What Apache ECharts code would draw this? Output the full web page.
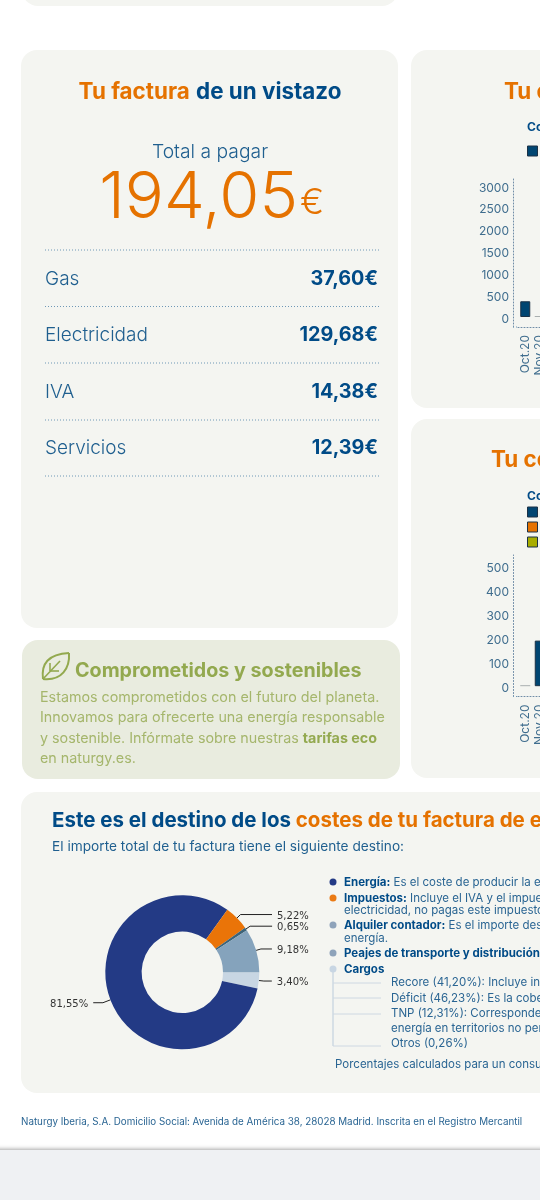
<!DOCTYPE html>
<html>
<head>
<meta charset="utf-8">
<title>Factura</title>
<style>
html, body { margin: 0; padding: 0; background: #fff; }
#chart { width: 540px; height: 1200px; }
</style>
<script src="https://cdn.jsdelivr.net/npm/echarts@6/dist/echarts.min.js"></script>
</head>
<body>
<div id="chart"></div>
<script>
// data
var months = ['Oct.20', 'Nov.20'];
var gasConsumo = [360, 0];
var gasTicks = [0, 500, 1000, 1500, 2000, 2500, 3000];
var luzPunta = [0, 190];
var luzLlano = [];
var luzValle = [];
var luzTicks = [0, 100, 200, 300, 400, 500];
var costeNombres = ['Cargos', 'Energía', 'Impuestos', 'Alquiler contador', 'Peajes'];
var costeValores = [3.40, 81.55, 5.22, 0.65, 9.18];
var costeEtiquetas = ['3,40%', '81,55%', '5,22%', '0,65%', '9,18%'];
var desglose = [
    ['Gas', '37,60€'],
    ['Electricidad', '129,68€'],
    ['IVA', '14,38€'],
    ['Servicios', '12,39€']
];

var NAVY = '#004b87';
var ORANGE = '#e57200';
var GREEN = '#93a94f';
var AXIS = '#3f6d8e';
var CARD = '#f4f5f1';
var FONT = 'Inter, Lato, sans-serif';

function txt(x, y, text, size, color, extra) {
    var style = {
        x: x, y: y + 2, text: text,
        fontFamily: FONT, fontSize: size, fill: color,
        verticalAlign: 'middle', align: 'left'
    };
    for (var k in extra) {
        style[k] = extra[k];
    }
    return { type: 'text', style: style };
}

function card(x, y, w, h, color) {
    return {
        type: 'rect', z: -1,
        shape: { x: x, y: y, width: w, height: h, r: 16 },
        style: { fill: color || CARD }
    };
}

function dotted(x1, y1, x2, y2, color) {
    return {
        type: 'line', z: 1,
        shape: { x1: x1, y1: y1, x2: x2, y2: y2 },
        style: { stroke: color || '#6f98b6', lineWidth: 1, lineDash: [1, 2] }
    };
}

function bullet(y, color) {
    return { type: 'circle', shape: { cx: 333, cy: y, r: 3.5 }, style: { fill: color } };
}

function branch(y) {
    return {
        type: 'line',
        shape: { x1: 333, y1: y, x2: 381, y2: y },
        style: { stroke: '#ced8e2', lineWidth: 1 }
    };
}

function leafCurve(x1, y1, cx1, cy1, cx2, cy2, x2, y2) {
    return {
        type: 'bezierCurve',
        shape: { x1: x1, y1: y1, cpx1: cx1, cpy1: cy1, cpx2: cx2, cpy2: cy2, x2: x2, y2: y2 },
        style: { fill: null, stroke: GREEN, lineWidth: 2 }
    };
}

function leafVein(x1, y1, x2, y2) {
    return {
        type: 'line',
        shape: { x1: x1, y1: y1, x2: x2, y2: y2 },
        style: { stroke: GREEN, lineWidth: 1.6 }
    };
}

var legendRich = {
    b: { fontFamily: FONT, fontSize: 11.5, fontWeight: 'bold', fill: NAVY },
    n: { fontFamily: FONT, fontSize: 11.5, fill: '#2a6593' }
};

var elements = [
    // fondo de la pagina
    {
        type: 'rect', z: -2,
        shape: { x: -10, y: 1150, width: 560, height: 60 },
        style: { fill: '#eff1f3', shadowBlur: 4, shadowColor: 'rgba(0,0,0,0.35)', shadowOffsetY: -1 }
    },
    card(22, -40, 376, 46),
    card(21, 50, 377, 578),
    card(411, 50, 160, 358),
    card(411, 419, 160, 359),
    card(22, 640, 378, 139, '#e9ecdf'),
    card(21, 792, 560, 301),

    txt(210, 90, '{o|Tu factura} {n|de un vistazo}', 22.4, NAVY, {
        align: 'center',
        rich: {
            o: { fontFamily: FONT, fontSize: 22.4, fontWeight: 'bold', fill: ORANGE },
            n: { fontFamily: FONT, fontSize: 22.4, fontWeight: 'bold', fill: NAVY }
        }
    }),
    txt(210, 150, 'Total a pagar', 19.3, '#1f5f8f', { align: 'center', fontWeight: 300 }),
    txt(298, 196, '194,05', 65, ORANGE, { align: 'right', fontWeight: 300 }),
    txt(300, 201, '€', 36, ORANGE, { fontWeight: 300 }),

    dotted(45, 250, 379, 250),
    dotted(45, 306.5, 379, 306.5),
    dotted(45, 363, 379, 363),
    dotted(45, 420, 379, 420),
    dotted(45, 476, 379, 476),

    // hoja
    leafCurve(43, 679, 41, 664, 48, 654, 69, 653),
    leafCurve(69, 653, 70, 668, 62, 681, 43, 679),
    leafVein(43, 679, 60, 661),
    leafVein(50, 671, 50, 663),
    leafVein(50, 671, 59, 671),

    txt(75, 669, 'Comprometidos y sostenibles', 19.7, GREEN, { fontWeight: 'bold' }),
    txt(40, 696, 'Estamos comprometidos con el futuro del planeta.', 14.3, '#a5b66c'),
    txt(40, 716, 'Innovamos para ofrecerte una energía responsable', 14.3, '#a5b66c'),
    txt(40, 737, '{n|y sostenible. Infórmate sobre nuestras }{b|tarifas eco}', 14.3, '#a5b66c', {
        rich: {
            n: { fontFamily: FONT, fontSize: 14.3, fill: '#a5b66c' },
            b: { fontFamily: FONT, fontSize: 14.3, fontWeight: 'bold', fill: GREEN }
        }
    }),
    txt(40, 757, 'en naturgy.es.', 14.3, '#a5b66c'),

    // graficas de la derecha
    txt(504, 90, 'Tu consumo de gas', 22.4, ORANGE, { fontWeight: 'bold' }),
    txt(527, 125, 'Consumo', 12, NAVY, { fontWeight: 'bold' }),
    txt(491, 458, 'Tu consumo de electricidad', 22.4, ORANGE, { fontWeight: 'bold' }),
    txt(527, 494, 'Consumo', 12, NAVY, { fontWeight: 'bold' }),
    dotted(513, 327, 518, 327),
    dotted(513, 696.5, 518, 696.5),

    // destino de los costes
    txt(52, 819, '{n|Este es el destino de los }{o|costes de tu factura de electricidad}', 20.5, NAVY, {
        rich: {
            n: { fontFamily: FONT, fontSize: 20.5, fontWeight: 'bold', fill: NAVY },
            o: { fontFamily: FONT, fontSize: 20.5, fontWeight: 'bold', fill: ORANGE }
        }
    }),
    txt(52, 845, 'El importe total de tu factura tiene el siguiente destino:', 13.7, '#1f5f8f'),

    bullet(882, '#233a85'),
    bullet(898, '#ea7a14'),
    bullet(925, '#8ea3ba'),
    bullet(953, '#8ea3ba'),
    {
        type: 'line',
        shape: { x1: 333, y1: 969, x2: 333, y2: 1046 },
        style: { stroke: '#ced8e2', lineWidth: 1.5 }
    },
    bullet(969, '#c8d6e3'),
    branch(983), branch(998), branch(1014), branch(1046),

    txt(344, 881, '{b|Energía:} {n|Es el coste de producir la energía}', 11.5, NAVY, { rich: legendRich }),
    txt(344, 897, '{b|Impuestos:} {n|Incluye el IVA y el impuesto}', 11.5, NAVY, { rich: legendRich }),
    txt(344, 909, 'electricidad, no pagas este impuesto', 11.5, '#2a6593'),
    txt(344, 924, '{b|Alquiler contador:} {n|Es el importe destinado}', 11.5, NAVY, { rich: legendRich }),
    txt(344, 937, 'energía.', 11.5, '#2a6593'),
    txt(344, 952, 'Peajes de transporte y distribución', 11.5, NAVY, { fontWeight: 'bold' }),
    txt(344, 968, 'Cargos', 11.5, NAVY, { fontWeight: 'bold' }),
    txt(391, 981, 'Recore (41,20%): Incluye incentivos', 11.5, '#2a6593'),
    txt(391, 997, 'Déficit (46,23%): Es la cobertura', 11.5, '#2a6593'),
    txt(391, 1012, 'TNP (12,31%): Corresponde', 11.5, '#2a6593'),
    txt(391, 1027, 'energía en territorios no peninsulares', 11.5, '#2a6593'),
    txt(391, 1042, 'Otros (0,26%)', 11.5, '#2a6593'),
    txt(335, 1063, 'Porcentajes calculados para un consumo', 11.5, '#2a6593'),

    txt(21, 1120, 'Naturgy Iberia, S.A. Domicilio Social: Avenida de América 38, 28028 Madrid. Inscrita en el Registro Mercantil', 9.8, '#2a6593')
];

// filas del desglose
var filaY = [277, 333, 390, 446];
desglose.forEach(function (fila, i) {
    elements.push(txt(45, filaY[i], fila[0], 19, '#1f5f8f', { fontWeight: 300 }));
    elements.push(txt(378, filaY[i], fila[1], 19.8, NAVY, { align: 'right', fontWeight: 'bold' }));
});

function barData(values) {
    return values.map(function (v) {
        if (v === 0) {
            return { value: 0, itemStyle: { color: '#a9afaf', borderWidth: 0 } };
        }
        return v;
    });
}

function barSeries(name, values, idx, color) {
    return {
        name: name,
        type: 'bar',
        stack: 'c' + idx,
        xAxisIndex: idx,
        yAxisIndex: idx,
        barWidth: 10,
        barMinHeight: 1,
        silent: true,
        itemStyle: { color: color, borderColor: '#1b3146', borderWidth: 1 },
        data: barData(values)
    };
}

function xAxisOpt(idx) {
    return {
        type: 'category',
        gridIndex: idx,
        data: months,
        axisTick: { show: false },
        axisLine: { onZero: false, lineStyle: { color: '#6f8ca6', type: [1, 2] } },
        axisLabel: { rotate: 90, margin: 8, interval: 0, color: AXIS, fontFamily: FONT, fontSize: 12 }
    };
}

function yAxisOpt(idx, min, max, ticks) {
    return {
        type: 'value',
        gridIndex: idx,
        min: min,
        max: max,
        offset: 5,
        splitLine: { show: false },
        axisTick: { show: false },
        axisLine: { show: true, lineStyle: { color: '#6f8ca6', type: [1, 2] } },
        axisLabel: {
            customValues: ticks, margin: 4,
            formatter: function (v) { return '{t|' + v + '}'; },
            rich: {
                t: { color: AXIS, fontFamily: FONT, fontSize: 12, padding: [4, 0, 0, 0] }
            }
        }
    };
}

function legendOpt(top, names) {
    return {
        left: 522, top: top, orient: 'vertical',
        itemWidth: 10, itemHeight: 10, itemGap: 3,
        icon: 'rect', selectedMode: false,
        itemStyle: { borderColor: '#1b3146', borderWidth: 1 },
        textStyle: { color: NAVY, fontFamily: FONT, fontSize: 12 },
        data: names
    };
}

// tramos de cada guia del donut, por etiqueta
var guiaLargo = [8, 9.7, 31.5, 22, 11];
var guiaInicio = [5, 8, 5, 5, 5];

var myChart = echarts.init(document.getElementById('chart'));

var option = {
    animation: false,
    backgroundColor: '#fff',
    graphic: { elements: elements },
    legend: [
        legendOpt(140, ['Gas']),
        legendOpt(501, ['Punta', 'Llano', 'Valle'])
    ],
    grid: [
        { left: 518, top: 177, width: 29, height: 150, outerBoundsMode: 'none' },
        { left: 518, top: 555, width: 29, height: 141.5, outerBoundsMode: 'none' }
    ],
    xAxis: [xAxisOpt(0), xAxisOpt(1)],
    yAxis: [
        yAxisOpt(0, -229, 3206, gasTicks),
        yAxisOpt(1, -43, 547, luzTicks)
    ],
    series: [
        barSeries('Gas', gasConsumo, 0, '#004571'),
        barSeries('Punta', luzPunta, 1, '#004571'),
        barSeries('Llano', luzLlano, 1, ORANGE),
        barSeries('Valle', luzValle, 1, '#a8ad00'),
        {
            type: 'pie',
            center: [182.3, 972.3],
            radius: [40.7, 77],
            startAngle: 0,
            clockwise: true,
            silent: true,
            avoidLabelOverlap: false,
            color: ['#c8d6e3', '#233a85', '#ea7408', '#3c6378', '#85a3bc'],
            label: {
                show: true,
                position: 'outer',
                formatter: function (p) { return '{t|' + costeEtiquetas[p.dataIndex] + '}'; },
                rich: {
                    t: { color: '#333', fontFamily: 'DejaVu Sans', fontSize: 10, padding: [3, 0, 0, 0] }
                }
            },
            labelLine: {
                show: true, length: 5, length2: 12,
                lineStyle: { color: '#222', width: 1 }
            },
            data: costeNombres.map(function (n, i) {
                return {
                    name: n,
                    value: costeValores[i],
                    labelLine: { length: guiaInicio[i], length2: guiaLargo[i] }
                };
            })
        }
    ]
};

myChart.setOption(option);
</script>
</body>
</html>
